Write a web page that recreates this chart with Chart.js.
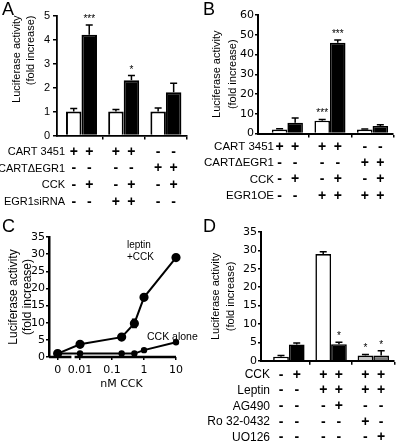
<!DOCTYPE html>
<html>
<head>
<meta charset="utf-8">
<script src="https://cdn.jsdelivr.net/npm/chart.js"></script>
<style>
html,body{margin:0;padding:0;background:#fff;}
body{position:relative;width:400px;height:443px;overflow:hidden;}
canvas{position:absolute;}
.pl{position:absolute;font-family:"Liberation Sans",Arial,sans-serif;font-size:18px;line-height:18px;color:#000;}
</style>
</head>
<body>
<canvas id="cA" width="200" height="215" style="left:0;top:0"></canvas>
<canvas id="cB" width="200" height="210" style="left:200px;top:0"></canvas>
<canvas id="cC" width="200" height="228" style="left:0;top:215px"></canvas>
<canvas id="cD" width="200" height="228" style="left:200px;top:215px"></canvas>
<div class="pl" style="left:2px;top:0px">A</div>
<div class="pl" style="left:203px;top:0px">B</div>
<div class="pl" style="left:2px;top:217px">C</div>
<div class="pl" style="left:203px;top:217px">D</div>
<script>
// ---------------- Panel A data ----------------
const groupsA = [0, 1, 2];
const openA = [1.0, 1.0, 1.0];
const openErrA = [0.12, 0.08, 0.15];
const filledA = [4.2, 2.3, 1.8];
const filledErrA = [0.4, 0.2, 0.38];
const openStarsA = ['', '', ''];
const filledStarsA = ['***', '*', ''];
const yTicksA = [0, 1, 2, 3, 4, 5];
const rowNamesA = ['CART 3451', 'CARTΔEGR1', 'CCK', 'EGR1siRNA'];
const rowSignsA = [
  ['+', '+', '+', '+', '-', '-'],
  ['-', '-', '-', '-', '+', '+'],
  ['-', '+', '-', '+', '-', '+'],
  ['-', '-', '+', '+', '-', '-']
];

// ---------------- Panel B data ----------------
const groupsB = [0, 1, 2];
const openB = [2.0, 6.5, 2.0];
const openErrB = [0.4, 0.6, 0.3];
const filledB = [5.5, 46.0, 3.8];
const filledErrB = [2.3, 1.3, 0.6];
const openStarsB = ['', '***', ''];
const filledStarsB = ['', '***', ''];
const yTicksB = [0, 10, 20, 30, 40, 50, 60];
const rowNamesB = ['CART 3451', 'CARTΔEGR1', 'CCK', 'EGR1OE'];
const rowSignsB = [
  ['+', '+', '+', '+', '-', '-'],
  ['-', '-', '-', '-', '+', '+'],
  ['-', '+', '-', '+', '-', '+'],
  ['-', '-', '+', '+', '+', '+']
];

// ---------------- Panel C data ----------------
const doseC = [0, 0.01, 0.2, 0.5, 1, 10];
const leptinCckC = [1.0, 3.7, 5.8, 9.8, 17.4, 29.0];
const leptinCckErrC = [0.4, 0.4, 0.4, 1.2, 0.6, 0.6];
const cckAloneC = [1.0, 1.0, 1.0, 1.0, 2.0, 4.3];
const cckAloneErrC = [0.2, 0.2, 0.2, 0.2, 0.2, 0.3];
const doseTicksC = [0, 0.01, 0.1, 1, 10];
const doseTickLabelsC = ['0', '0.01', '0.1', '1', '10'];
const yTicksC = [0, 5, 10, 15, 20, 25, 30, 35];

// ---------------- Panel D data ----------------
const groupsD = [0, 1, 2];
const openD = [1.1, 29.0, 1.4];
const openErrD = [0.3, 0.6, 0.3];
const filledD = [4.4, 4.5, 1.4];
const filledErrD = [0.4, 0.5, 1.3];
const openStarsD = ['', '', '*'];
const filledStarsD = ['', '*', '*'];
const yTicksD = [0, 5, 10, 15, 20, 25, 30, 35];
const rowNamesD = ['CCK', 'Leptin', 'AG490', 'Ro 32-0432', 'UO126'];
const rowSignsD = [
  ['-', '+', '+', '+', '+', '+'],
  ['-', '-', '+', '+', '+', '+'],
  ['-', '-', '-', '+', '-', '-'],
  ['-', '-', '-', '-', '+', '-'],
  ['-', '-', '-', '-', '-', '+']
];

// ---------------- styling ----------------
const FA = '"Liberation Sans", Arial, Helvetica, sans-serif';
const FV = '"DejaVu Sans", Verdana, sans-serif';
const TITLE = ['Luciferase activity', '(fold increase)'];

function errorPlugin(cfg) {
  return {
    id: 'errorBars',
    afterDatasetsDraw(chart) {
      const ctx = chart.ctx, ys = chart.scales.y;
      chart.data.datasets.forEach((ds, d) => {
        if (!ds.errs) return;
        const meta = chart.getDatasetMeta(d);
        meta.data.forEach((el, i) => {
          const v = ds.data[i].y, e = ds.errs[i];
          const x = el.x;
          const yHi = ys.getPixelForValue(v + e);
          const yLo = cfg.both ? ys.getPixelForValue(v - e) : el.y;
          ctx.save();
          ctx.strokeStyle = '#000';
          ctx.lineWidth = cfg.width;
          ctx.beginPath();
          ctx.moveTo(x, yLo); ctx.lineTo(x, yHi);
          ctx.moveTo(x - cfg.cap, yHi); ctx.lineTo(x + cfg.cap, yHi);
          if (cfg.both) { ctx.moveTo(x - cfg.cap, yLo); ctx.lineTo(x + cfg.cap, yLo); }
          ctx.stroke();
          if (ds.stars && ds.stars[i]) {
            ctx.fillStyle = '#000';
            ctx.font = cfg.starFont;
            ctx.textAlign = 'center';
            ctx.textBaseline = 'alphabetic';
            ctx.fillText(ds.stars[i], x, yHi - cfg.starGap);
          }
          ctx.restore();
        });
      });
    }
  };
}

function rowsPlugin(cfg) {
  return {
    id: 'signRows',
    afterDraw(chart) {
      const ctx = chart.ctx, ca = chart.chartArea;
      const metas = [chart.getDatasetMeta(0), chart.getDatasetMeta(1)];
      ctx.save();
      ctx.fillStyle = '#000';
      ctx.textBaseline = 'middle';
      cfg.names.forEach((name, r) => {
        const y = ca.bottom + cfg.start + r * cfg.gap;
        ctx.font = cfg.font;
        ctx.textAlign = 'right';
        ctx.fillText(name, cfg.labelRight, y);
        ctx.font = cfg.signFont;
        ctx.textAlign = 'center';
        cfg.signs[r].forEach((s, k) => {
          const el = metas[k % 2].data[Math.floor(k / 2)];
          ctx.fillText(s, el.x, y);
        });
      });
      ctx.restore();
    }
  };
}

function barPanel(id, o) {
  return new Chart(document.getElementById(id), {
    type: 'bar',
    data: {
      datasets: [
        { data: o.groups.map((x, i) => ({ x, y: o.open[i] })), backgroundColor: o.openColors,
          borderColor: '#000', borderWidth: o.bw, errs: o.openErr, stars: o.openStars },
        { data: o.groups.map((x, i) => ({ x, y: o.filled[i] })), backgroundColor: o.filledColors,
          borderColor: '#000', borderWidth: o.bw, errs: o.filledErr, stars: o.filledStars }
      ]
    },
    options: {
      responsive: false, animation: false, devicePixelRatio: 1,
      layout: { padding: o.pad },
      plugins: { legend: { display: false }, tooltip: { enabled: false } },
      datasets: { bar: { categoryPercentage: o.catPct, barPercentage: 1, grouped: true, borderSkipped: 'start' } },
      scales: {
        x: {
          type: 'linear', offset: false, min: o.xmin, max: o.xmax,
          afterBuildTicks: s => { s.ticks = [0.5, 1.5, 2.5].map(v => ({ value: v })); },
          afterFit: s => { s.height = 8; },
          ticks: { display: false },
          grid: { offset: false, drawOnChartArea: false, drawTicks: true, tickLength: 4, color: '#000', lineWidth: 1.5 },
          border: { color: '#000', width: o.axisW }
        },
        y: {
          min: 0, max: o.yTicks[o.yTicks.length - 1],
          afterBuildTicks: s => { s.ticks = o.yTicks.map(v => ({ value: v })); },
          afterFit: s => { s.width = o.yWidth; },
          ticks: { color: '#000', font: o.tickFont, padding: o.tickPad },
          grid: { drawOnChartArea: false, drawTicks: true, tickLength: o.tickLen, color: '#000', lineWidth: 1.5 },
          border: { color: '#000', width: o.axisW },
          title: { display: true, text: TITLE, color: '#000', font: o.titleFont, align: o.titleAlign,
                   padding: { top: o.titlePad, bottom: 0 } }
        }
      }
    },
    plugins: [errorPlugin({ both: false, width: 1.5, cap: 3.5, starFont: '10px ' + FA, starGap: 3 }),
              rowsPlugin(o.rows)]
  });
}

// ---------- Panel A ----------
barPanel('cA', {
  groups: groupsA, open: openA, openErr: openErrA, openStars: openStarsA,
  filled: filledA, filledErr: filledErrA, filledStars: filledStarsA,
  openColors: '#ffffff', filledColors: '#000000', bw: 2,
  pad: { left: 0, right: 13, top: 15.5, bottom: 71.5 },
  xmin: -0.58, xmax: 2.5, catPct: 0.735, axisW: 1.8,
  yTicks: yTicksA, yWidth: 57, tickFont: { family: FA, size: 11 }, tickPad: 3, tickLen: 4,
  titleFont: { family: FA, size: 11, lineHeight: 1.27 }, titleAlign: 'end', titlePad: 10,
  rows: { names: rowNamesA, signs: rowSignsA, start: 16.5, gap: 16.6, labelRight: 65,
          font: '11px ' + FA, signFont: 'bold 14px ' + FA }
});

// ---------- Panel B ----------
barPanel('cB', {
  groups: groupsB, open: openB, openErr: openErrB, openStars: openStarsB,
  filled: filledB, filledErr: filledErrB, filledStars: filledStarsB,
  openColors: '#ffffff', filledColors: '#000000', bw: 1.6,
  pad: { left: 0, right: 7, top: 15, bottom: 68.5 },
  xmin: -0.69, xmax: 2.48, catPct: 0.73, axisW: 2,
  yTicks: yTicksB, yWidth: 58, tickFont: { family: FV, size: 11 }, tickPad: 1, tickLen: 3,
  titleFont: { family: FA, size: 11, lineHeight: 1.4 }, titleAlign: 'center', titlePad: 9.5,
  rows: { names: rowNamesB, signs: rowSignsB, start: 13.5, gap: 16.3, labelRight: 74,
          font: '11.5px ' + FA, signFont: 'bold 14px ' + FA }
});

// ---------- Panel D ----------
barPanel('cD', {
  groups: groupsD, open: openD, openErr: openErrD, openStars: openStarsD,
  filled: filledD, filledErr: filledErrD, filledStars: filledStarsD,
  openColors: ['#ffffff', '#ffffff', '#c6c6c6'], filledColors: ['#000000', '#000000', '#7a7a7a'], bw: 1.6,
  pad: { left: 0, right: 6, top: 17, bottom: 74.3 },
  xmin: -0.66, xmax: 2.49, catPct: 0.745, axisW: 2,
  yTicks: yTicksD, yWidth: 61, tickFont: { family: FV, size: 11 }, tickPad: 1, tickLen: 3,
  titleFont: { family: FA, size: 11, lineHeight: 1.45 }, titleAlign: 'center', titlePad: 7.5,
  rows: { names: rowNamesD, signs: rowSignsD, start: 14.3, gap: 15.6, labelRight: 70,
          font: '12px ' + FA, signFont: 'bold 14px ' + FA }
});

// ---------- Panel C ----------
const ZERO_AT = -2.7;          // axis position used for the "0" dose (left of the axis break)
const AXIS_BREAK = [-2.27, -2.17];
const dosePos = d => (d === 0 ? ZERO_AT : Math.log10(d));

const cDecor = {
  id: 'cDecor',
  afterDraw(chart) {
    const ctx = chart.ctx, ca = chart.chartArea, xs = chart.scales.x;
    ctx.save();
    ctx.strokeStyle = '#000';
    ctx.lineWidth = 2.5;
    ctx.beginPath();
    ctx.moveTo(ca.left, ca.bottom); ctx.lineTo(xs.getPixelForValue(AXIS_BREAK[0]), ca.bottom);
    ctx.moveTo(xs.getPixelForValue(AXIS_BREAK[1]), ca.bottom); ctx.lineTo(ca.right, ca.bottom);
    ctx.stroke();
    ctx.fillStyle = '#000';
    ctx.textBaseline = 'middle';
    ctx.textAlign = 'left';
    ctx.font = '10px ' + FA;
    ctx.fillText('leptin', 127, 30);
    ctx.fillText('+CCK', 127, 42);
    ctx.font = '10.5px ' + FA;
    ctx.fillText('CCK alone', 147, 122);
    ctx.font = '11px ' + FV;
    ctx.textAlign = 'center';
    ctx.fillText('nM CCK', (ca.left + ca.right) / 2 + 9, 169);
    ctx.restore();
  }
};

new Chart(document.getElementById('cC'), {
  type: 'line',
  data: {
    datasets: [
      { data: doseC.map((d, i) => ({ x: dosePos(d), y: leptinCckC[i] })), errs: leptinCckErrC,
        borderColor: '#000', backgroundColor: '#000', borderWidth: 2, pointRadius: 3.6,
        pointBackgroundColor: '#000', pointBorderColor: '#000', tension: 0, clip: false },
      { data: doseC.map((d, i) => ({ x: dosePos(d), y: cckAloneC[i] })), errs: cckAloneErrC,
        borderColor: '#000', backgroundColor: '#000', borderWidth: 2, pointRadius: 2.2,
        pointBackgroundColor: '#000', pointBorderColor: '#000', tension: 0, clip: false }
    ]
  },
  options: {
    responsive: false, animation: false, devicePixelRatio: 1,
    layout: { padding: { left: 0, right: 24, top: 22, bottom: 56 } },
    plugins: { legend: { display: false }, tooltip: { enabled: false } },
    scales: {
      x: {
        type: 'linear', min: -2.97, max: 1.0,
        afterBuildTicks: s => { s.ticks = doseTicksC.map(v => ({ value: dosePos(v) })); },
        afterFit: s => { s.height = 30; },
        ticks: { autoSkip: false, maxRotation: 0, color: '#000', font: { family: FV, size: 11 }, padding: 4,
                 callback: (v, i) => doseTickLabelsC[i] },
        grid: { drawOnChartArea: false, drawTicks: true, tickLength: 3, color: '#000', lineWidth: 1.5 },
        border: { display: false }
      },
      y: {
        min: 0, max: 35,
        afterBuildTicks: s => { s.ticks = yTicksC.map(v => ({ value: v })); },
        afterFit: s => { s.width = 49; },
        ticks: { color: '#000', font: { family: FV, size: 11 }, padding: 1 },
        grid: { drawOnChartArea: false, drawTicks: true, tickLength: 3, color: '#000', lineWidth: 1.5 },
        border: { color: '#000', width: 2.5 },
        title: { display: true, text: TITLE, color: '#000', font: { family: FA, size: 12, lineHeight: 1.1 },
                 align: 'center', padding: { top: 7.4, bottom: 0 } }
      }
    }
  },
  plugins: [errorPlugin({ both: true, width: 1.5, cap: 2.5, starFont: '10px ' + FA, starGap: 3 }), cDecor]
});
</script>
</body>
</html>
